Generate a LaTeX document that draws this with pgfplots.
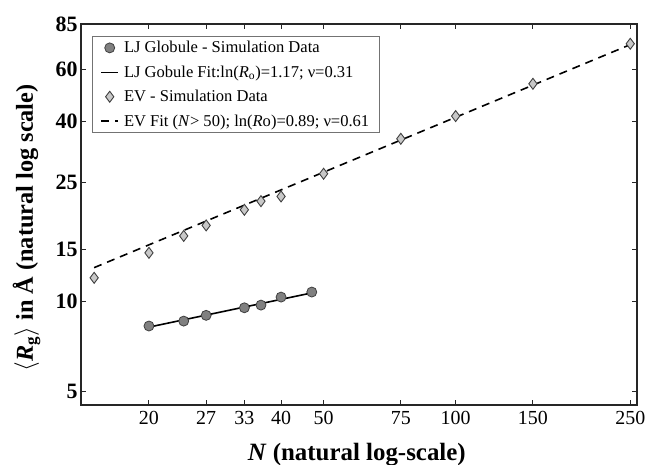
\documentclass[border=0pt]{standalone}
\usepackage{pgfplots}
\pgfplotsset{compat=1.18}
\usepackage{fontspec}
\setmainfont{Liberation Serif}
\definecolor{cfill}{HTML}{808080}
\definecolor{dfill}{HTML}{C8C8C8}
\definecolor{edge}{HTML}{404040}
\begin{document}
\begin{tikzpicture}
\begin{axis}[
  scale only axis, width=556bp, height=381bp,
  xmode=log, ymode=log,
  xmin=14, xmax=259, ymin=4.51, ymax=85,
  xtick={20,27,33,40,50,75,100,150,250},
  xticklabels={20,27,33,40,50,75,100,150,250},
  ytick={5,10,15,25,40,60,85},
  yticklabels={5,10,15,25,40,60,85},
  xminorticks=false, yminorticks=false,
  tick align=inside, major tick length=5bp,
  axis line style={black!85, line width=1.1bp},
  major tick style={black!85, line width=1bp},
  xticklabel style={font=\fontsize{20}{24}\selectfont, yshift=-3bp},
  yticklabel style={font=\fontsize{22}{26}\selectfont\bfseries},
  xlabel={\textbf{\textit{N} (natural log-scale)}},
  ylabel={\textbf{$\langle$\textit{R}\textsubscript{g}$\rangle$ in Å (natural log scale)}},
  xlabel style={font=\fontsize{25}{29}\selectfont, at={(axis description cs:0.496,-0.131)}, anchor=center},
  ylabel style={font=\fontsize{24.4}{28}\selectfont, at={(axis description cs:-0.098,0.465)}, anchor=center},
  legend style={at={(0.0198,0.9685)}, anchor=north west, draw=black!55, line width=0.8bp,
    font=\fontsize{16.6}{20}\selectfont, row sep=7.5bp, column sep=3bp, inner xsep=8bp, inner ysep=3bp},
  legend cell align=left,
]
\addplot[only marks, mark=*, mark size=5bp, mark options={fill=cfill, draw=edge, line width=0.8bp}]
 coordinates {(20,8.29) (24,8.61) (27,9.0) (33,9.54) (36,9.74) (40,10.36) (47,10.77)};
\addlegendentry{LJ Globule - Simulation Data}
\addplot[black, line width=1.6bp, mark=none] coordinates {(20,8.22) (47,10.7)};
\addlegendentry{LJ Gobule Fit:ln(\textit{R}\textsubscript{o})=1.17; ν=0.31}
\addplot[only marks, mark=diamond*, mark size=5.5bp, mark options={fill=dfill, draw=edge, line width=0.9bp}]
 coordinates {(15,12.02) (20,14.57) (24,16.6) (27,18.0) (33,20.3) (36,21.7) (40,22.5) (50,26.8) (75,35.1) (100,41.8) (150,53.6) (250,73.0)};
\addlegendentry{EV - Simulation Data}
\addplot[black, line width=1.6bp, mark=none, dash pattern=on 8bp off 6bp] coordinates {(15,13.0) (250,72.5)};
\addlegendentry{EV Fit (\textit{N}> 50); ln(\textit{R}o)=0.89; ν=0.61}
\end{axis}
\pgfresetboundingbox
\path[use as bounding box] ([shift={(-81bp,-60bp)}]current axis.south west) rectangle ([shift={(9bp,24bp)}]current axis.north east);
\end{tikzpicture}
\end{document}
